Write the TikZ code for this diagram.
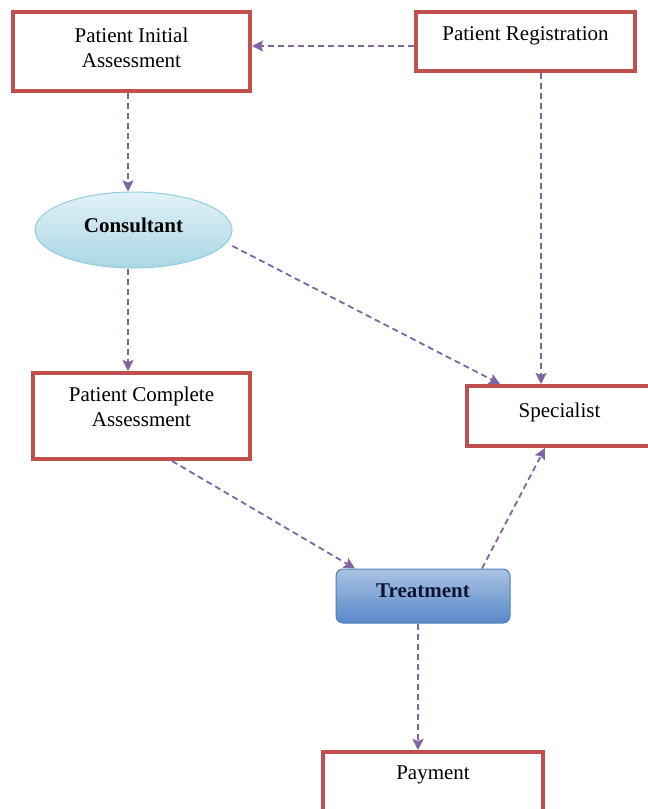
\documentclass[tikz,border=0pt]{standalone}
\usepackage{fontspec}
\setmainfont{Liberation Serif}
\usetikzlibrary{arrows.meta,shapes.geometric}
\definecolor{boxred}{RGB}{192,80,77}
\definecolor{arrowpurple}{RGB}{128,100,162}
\definecolor{ellfillA}{RGB}{225,242,247}
\definecolor{ellfillB}{RGB}{170,214,228}
\definecolor{ellborder}{RGB}{147,205,221}
\definecolor{trfillA}{RGB}{170,195,228}
\definecolor{trfillB}{RGB}{88,136,200}
\definecolor{trborder}{RGB}{79,129,189}
\tikzset{
  redbox/.style={draw=boxred, line width=4pt, fill=white, align=center, inner sep=0pt,
    font=\fontsize{21}{25}\selectfont},
  flowarrow/.style={draw=arrowpurple, line width=1.8pt, dash pattern=on 6pt off 4pt,
    -{Stealth[length=11pt,width=11pt,inset=2pt]}},
}
\begin{document}
\begin{tikzpicture}[x=1pt,y=-1pt]
\clip (0,0) rectangle (648,809);
\fill[white] (0,0) rectangle (648,809);
\node[redbox, minimum width=237pt, minimum height=79pt, text depth=8pt] (init) at (131.5,51.5) {Patient Initial\\Assessment};
\node[redbox, minimum width=219pt, minimum height=59pt, text depth=16pt] (reg) at (525.5,41.5) {Patient Registration};
\node[ellipse, draw=ellborder, line width=1pt, top color=ellfillA, bottom color=ellfillB,
  minimum width=197pt, minimum height=76pt, text depth=10pt, inner sep=0pt,
  font=\bfseries\fontsize{21}{25}\selectfont] (cons) at (133.5,230) {Consultant};
\node[redbox, minimum width=217pt, minimum height=86pt, text depth=18pt] (comp) at (141.5,416) {Patient Complete\\Assessment};
\node[redbox, minimum width=185pt, minimum height=60pt, text depth=12pt] (spec) at (559.5,416) {Specialist};
\node[rectangle, rounded corners=7pt, draw=trborder, line width=1pt, top color=trfillA, bottom color=trfillB,
  minimum width=174pt, minimum height=54pt, text depth=10pt, inner sep=0pt,
  font=\bfseries\fontsize{21}{25}\selectfont, text={rgb,255:red,15;green,20;blue,50}] (treat) at (423,596) {Treatment};
\node[redbox, minimum width=220pt, minimum height=62pt, text depth=20pt] (pay) at (433,783) {Payment};
% connectors
\draw[flowarrow] ([yshift=-4.5pt]reg.west) -- ([yshift=-4.5pt]reg.west -| init.east);
\draw[flowarrow] ([xshift=-3.5pt]init.south) -- ([xshift=-3.5pt]init.south |- cons.north);
\draw[flowarrow] ([xshift=15.5pt]reg.south) -- ([xshift=15.5pt]reg.south |- spec.north);
\draw[flowarrow] ([yshift=-16pt]cons.east) -- ([xshift=-59.5pt]spec.north);
\draw[flowarrow] ([xshift=-5.5pt]cons.south) -- ([xshift=-5.5pt]cons.south |- comp.north);
\draw[flowarrow] ([xshift=30.5pt]comp.south) -- ([xshift=-68pt]treat.north);
\draw[flowarrow] ([xshift=59pt]treat.north) -- ([xshift=-14.5pt]spec.south);
\draw[flowarrow] ([xshift=-5pt]treat.south) -- ([xshift=-5pt]treat.south |- pay.north);
\end{tikzpicture}
\end{document}
